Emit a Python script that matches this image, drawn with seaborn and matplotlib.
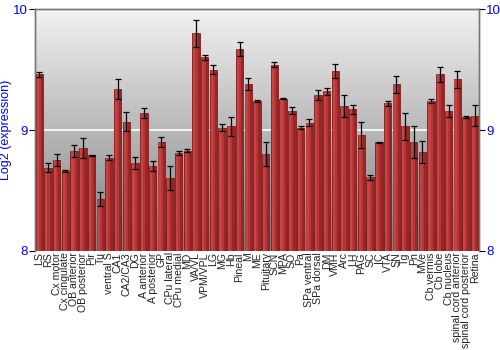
import numpy as np
import pandas as pd
import matplotlib
matplotlib.use("Agg")
import matplotlib.pyplot as plt
import seaborn as sns

regions = ["LS", "RS", "Cx motor", "Cx cingulate", "OB anterior", "OB posterior", "Pir", "Tu",
           "ventral S", "CA1", "CA2/CA3", "DG", "A anterior", "A posterior", "GP", "CPu lateral",
           "CPu medial", "MD", "VA/VL", "VPM/VPL", "LG", "MG", "Hb", "Pineal", "M", "ME",
           "Pituitary", "SCN", "MPA", "SO", "Pa", "SPa ventral", "SPa dorsal", "DM", "VMH", "Arc",
           "LH", "PAG", "SC", "IC", "VTA", "SN", "Tg", "Pn", "MVe", "Cb vermis", "Cb lobe",
           "Cb nucleus", "spinal cord anterior", "spinal cord posterior", "Retina"]
expression = [9.46, 8.69, 8.75, 8.66, 8.83, 8.85, 8.79, 8.43, 8.77, 9.34, 9.07, 8.73, 9.14, 8.70,
              8.90, 8.60, 8.81, 8.83, 9.80, 9.60, 9.50, 9.02, 9.03, 9.67, 9.38, 9.24, 8.80, 9.54,
              9.26, 9.16, 9.02, 9.06, 9.29, 9.32, 9.49, 9.20, 9.17, 8.96, 8.61, 8.90, 9.22, 9.38,
              9.03, 8.90, 8.82, 9.24, 9.46, 9.16, 9.42, 9.11, 9.12]
error = [0.02, 0.04, 0.05, 0.01, 0.05, 0.08, 0.005, 0.06, 0.02, 0.08, 0.08, 0.05, 0.04, 0.04,
         0.04, 0.10, 0.02, 0.01, 0.11, 0.02, 0.04, 0.03, 0.08, 0.06, 0.05, 0.01, 0.10, 0.02,
         0.005, 0.03, 0.01, 0.03, 0.04, 0.03, 0.06, 0.09, 0.04, 0.11, 0.02, 0.005, 0.02, 0.07,
         0.11, 0.13, 0.09, 0.02, 0.06, 0.05, 0.07, 0.01, 0.09]
yticks = [8, 9, 10]

df = pd.DataFrame({"region": regions, "expression": expression, "error": error})

sns.set_theme(style="white")
plt.rcParams['font.family'] = ['Liberation Sans', 'DejaVu Sans']

fig = plt.figure(figsize=(5, 3.5), dpi=100)
ax = fig.add_axes([0.07, 0.283, 0.888, 0.691])

# gradient background
grad = np.linspace(0, 1, 256).reshape(-1, 1)
cmap = matplotlib.colors.LinearSegmentedColormap.from_list("bg", ["#f2f2f2", "#7e7e7e"])
ax.imshow(grad, extent=[0, 1, 0, 1], transform=ax.transAxes, cmap=cmap, aspect="auto",
          zorder=0, interpolation="bicubic")

sns.barplot(data=df, x="region", y="expression", color="#b83535", saturation=1,
            edgecolor="#801a1a", linewidth=0.6, width=0.85, ax=ax, zorder=3)
# lighter highlight on left part of each bar
for p in list(ax.patches):
    x0, w, h, y0 = p.get_x(), p.get_width(), p.get_height(), p.get_y()
    ax.add_patch(plt.Rectangle((x0 + w * 0.12, y0), w * 0.3, h, facecolor="#cc5050",
                               edgecolor="none", alpha=0.6, zorder=3.1))
    ax.add_patch(plt.Rectangle((x0 + w * 0.7, y0), w * 0.3, h, facecolor="#801818",
                               edgecolor="none", alpha=0.5, zorder=3.1))
ax.errorbar(np.arange(len(regions)), df["expression"], yerr=df["error"], fmt="none",
            ecolor="black", elinewidth=0.9, capsize=2, capthick=0.9, zorder=4)
ax.axhline(9, color="white", lw=1.2, zorder=2)

ax.set_ylim(8, 10)
ax.set_xlim(-0.5, len(regions) - 0.5)
ax.set_yticks(yticks)
ax.set_yticklabels([str(t) for t in yticks], color="blue", fontsize=9.5)
ax.set_ylabel("Log2 (expression)", color="blue", fontsize=9)
ax.yaxis.set_label_coords(-0.052, 0.5)
ax.set_xlabel("")
ax.tick_params(axis="x", labelsize=7.6, rotation=90, length=0, pad=1)
ax.tick_params(axis="y", length=4, width=0.8, color="black", pad=1, left=True)
for lab in ax.get_xticklabels():
    lab.set_color("#222222")

ax2 = ax.twinx()
ax2.set_ylim(8, 10)
ax2.set_yticks(yticks)
ax2.set_yticklabels([str(t) for t in yticks], color="blue", fontsize=9.5)
ax2.tick_params(axis="y", length=4, width=0.8, color="black", pad=1, right=True)
ax2.grid(False)
ax.grid(False)
for a in (ax, ax2):
    for s in ["left", "right", "top"]:
        a.spines[s].set_color("#777777")
        a.spines[s].set_linewidth(1)
    a.spines["bottom"].set_visible(False)

fig.savefig("out.png", dpi=100)
